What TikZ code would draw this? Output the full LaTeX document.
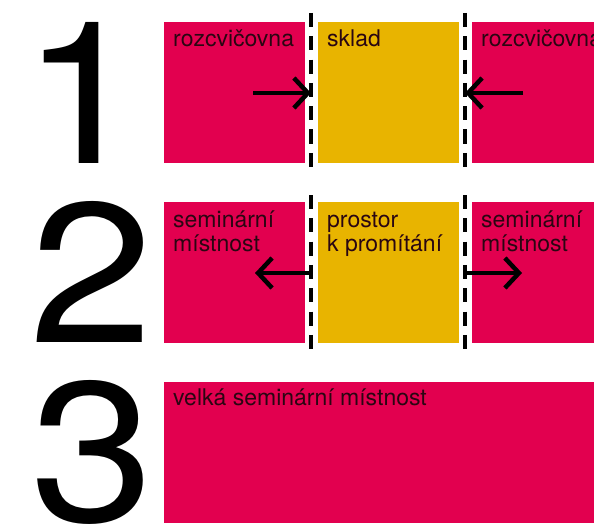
\documentclass[tikz,border=0pt]{standalone}
\usepackage{fontspec}
\setmainfont{TeX Gyre Heros}
\usetikzlibrary{arrows.meta, positioning, calc}
\definecolor{cRoom}{HTML}{E2004F}
\definecolor{cStore}{HTML}{E8B400}
\definecolor{cTxt}{HTML}{2A0612}
\newcommand\bignum[1]{\scalebox{1.12}[1]{#1}}

\begin{document}
\begin{tikzpicture}[x=1pt, y=-1pt,
    room/.style={anchor=north west, inner sep=0pt, outer sep=0pt,
                 minimum width=141pt, minimum height=141pt},
    nred/.style ={room, fill=cRoom},
    nyel/.style ={room, fill=cStore},
    lbl/.style={anchor=base west, inner sep=0pt, align=left, text=cTxt,
                font=\fontsize{23}{24}\selectfont},
    num/.style={anchor=base, inner sep=0pt, font=\fontsize{199}{199}\selectfont},
    wall/.style={line width=4.5pt, dash pattern=on 14pt off 9.3pt},
    ar/.style={-{Straight Barb[length=14pt,width=30pt]}, line width=4.5pt},
]
\useasboundingbox (0,0) rectangle (594,524);
\clip (0,0) rectangle (594,524);

% === ROW 1: rozcvicovna | sklad | rozcvicovna ===
\node[num] (n1) at (83,163) {\bignum{1}};
\node[nred] (r1l) at (164,22) {};
\node[nyel] (r1m) at (318,22) {};
\node[nred] (r1r) at (472,22) {};
\node[lbl] (t1l) at ([shift={(9,25)}]r1l.north west) {rozcvičovna};
\node[lbl] (t1m) at ([shift={(9,25)}]r1m.north west) {sklad};
\node[lbl] (t1r) at ([shift={(9,25)}]r1r.north west) {rozcvičovna};

\coordinate (w1l) at (311,13);
\coordinate (w1r) at (465,13);
\draw[wall] (w1l) -- ++(0,154);
\draw[wall] (w1r) -- ++(0,154);

\coordinate (a1l) at (253,93);
\coordinate (a1r) at (523,93);
\draw[ar] (a1l) -- (a1l -| w1l);
\draw[ar] (a1r) -- (a1r -| w1r);

% === ROW 2: seminarni mistnost | prostor k promitani | seminarni mistnost ===
\node[num] (n2) at (91,342) {\bignum{2}};
\node[nred] (r2l) at (164,202) {};
\node[nyel] (r2m) at (318,202) {};
\node[nred] (r2r) at (472,202) {};
\node[lbl] (t2l) at ([shift={(9,49)}]r2l.north west) {seminární\\místnost};
\node[lbl] (t2m) at ([shift={(9,49)}]r2m.north west) {prostor\\k promítání};
\node[lbl] (t2r) at ([shift={(9,49)}]r2r.north west) {seminární\\místnost};

\coordinate (w2l) at (311,195);
\coordinate (w2r) at (465,195);
\draw[wall] (w2l) -- ++(0,154);
\draw[wall] (w2r) -- ++(0,154);

\coordinate (a2l) at (255,273);
\coordinate (a2r) at (522,273);
\draw[ar] (a2l -| w2l) -- (a2l);
\draw[ar] (a2r -| w2r) -- (a2r);

% === ROW 3: one big room ===
\node[num] (n3) at (92,521) {\bignum{3}};
\node[nred, minimum width=430pt] (r3) at (164,382) {};
\node[lbl] (t3) at ([shift={(9,23)}]r3.north west) {velká seminární místnost};

\end{tikzpicture}
\end{document}
